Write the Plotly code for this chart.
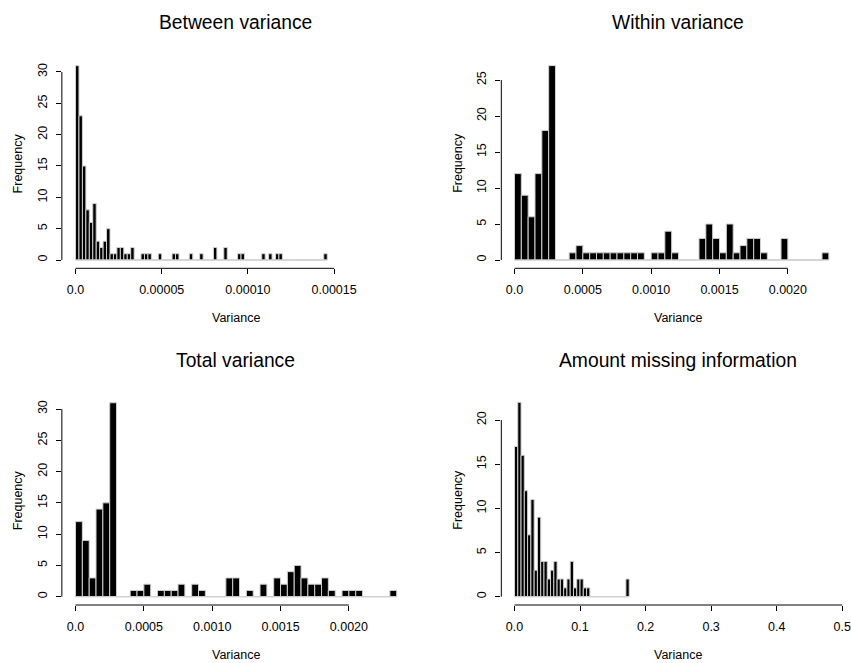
import numpy as np
import plotly.graph_objects as go

# ---- histogram data: bin width and counts per bin (bins start at 0) ----
between_width = 0.000002
between_counts = [31, 23, 15, 8, 6, 9, 3, 2, 3, 5, 1, 1, 2, 2, 1, 1, 2, 0, 0, 1,
                  1, 1, 0, 0, 1, 0, 0, 0, 1, 1, 0, 0, 0, 1, 0, 0, 1, 0, 0, 0,
                  2, 0, 0, 2, 0, 0, 0, 1, 1, 0, 0, 0, 0, 0, 1, 0, 1, 0, 1, 1,
                  0, 0, 0, 0, 0, 0, 0, 0, 0, 0, 0, 0, 1]

within_width = 0.00005
within_counts = [12, 9, 6, 12, 18, 27, 0, 0, 1, 2, 1, 1, 1, 1, 1, 1, 1, 1, 1, 0,
                 1, 1, 4, 1, 0, 0, 0, 3, 5, 3, 1, 5, 1, 2, 3, 3, 1, 0, 0, 3,
                 0, 0, 0, 0, 0, 1]

total_width = 0.00005
total_counts = [12, 9, 3, 14, 15, 31, 0, 0, 1, 1, 2, 0, 1, 1, 1, 2, 0, 2, 1, 0,
                0, 0, 3, 3, 0, 1, 0, 2, 0, 3, 2, 4, 5, 3, 2, 2, 3, 1, 0, 1,
                1, 1, 0, 0, 0, 0, 1]

missing_width = 0.005
missing_counts = [17, 22, 16, 12, 7, 11, 3, 9, 4, 4, 2, 3, 4, 2, 2, 1, 2, 4, 1, 2,
                  2, 1, 1, 0, 0, 0, 0, 0, 0, 0, 0, 0, 0, 0, 2]

titles = ["Between variance", "Within variance", "Total variance",
          "Amount missing information"]

x_tickvals = [
    [0.0, 0.00005, 0.00010, 0.00015],
    [0.0, 0.0005, 0.0010, 0.0015, 0.0020],
    [0.0, 0.0005, 0.0010, 0.0015, 0.0020],
    [0.0, 0.1, 0.2, 0.3, 0.4, 0.5],
]
x_ticktext = [
    ["0.0", "0.00005", "0.00010", "0.00015"],
    ["0.0", "0.0005", "0.0010", "0.0015", "0.0020"],
    ["0.0", "0.0005", "0.0010", "0.0015", "0.0020"],
    ["0.0", "0.1", "0.2", "0.3", "0.4", "0.5"],
]
y_tickvals = [
    [0, 5, 10, 15, 20, 25, 30],
    [0, 5, 10, 15, 20, 25],
    [0, 5, 10, 15, 20, 25, 30],
    [0, 5, 10, 15, 20],
]

# ---- layout geometry (pixels of an 851 x 663 page) ----
W, H = 851, 663
col_px = [(62.0, 410.5), (502.5, 851.0)]
row_px = [(58.0, 268.3), (395.0, 605.0)]
panel_pos = [(0, 0), (0, 1), (1, 0), (1, 1)]  # (row, col)

x_ranges = [
    [-7.93e-6, 1.9375e-4],
    [-9.635e-5, 0.0024474],
    [-1.0e-4, 0.0024438],
    [-0.02009, 0.51035],
]
y_ranges = [
    [-1.324, 32.23],
    [-1.153, 28.06],
    [-1.327, 32.24],
    [-0.939, 22.83],
]

FONT = "Liberation Sans, Arial, Helvetica, sans-serif"
BORDER = "#cfcfcf"

hists = [
    (between_width, between_counts),
    (within_width, within_counts),
    (total_width, total_counts),
    (missing_width, missing_counts),
]

fig = go.Figure()
layout = dict(
    width=W, height=H,
    margin=dict(l=0, r=0, t=0, b=0),
    paper_bgcolor="white", plot_bgcolor="white",
    showlegend=False,
    font=dict(family=FONT, color="black"),
)
shapes = []
annotations = []

for k, (width, counts) in enumerate(hists):
    r, c = panel_pos[k]
    n = k + 1
    xa = "x" if n == 1 else f"x{n}"
    ya = "y" if n == 1 else f"y{n}"
    counts = np.array(counts, dtype=float)
    breaks = np.arange(len(counts) + 1) * width
    centers = breaks[:-1] + width / 2

    # gray baseline under the empty bins
    fig.add_trace(go.Scatter(
        x=[breaks[0], breaks[-1]], y=[0, 0], mode="lines",
        line=dict(color=BORDER, width=1), xaxis=xa, yaxis=ya,
        hoverinfo="skip"))
    fig.add_trace(go.Bar(
        x=centers, y=counts, width=[width] * len(counts),
        marker=dict(color="black", line=dict(color=BORDER, width=1)),
        xaxis=xa, yaxis=ya, hoverinfo="skip"))

    x0p, x1p = col_px[c]
    y0p, y1p = row_px[r]
    xdom = [x0p / W, x1p / W]
    ydom = [1 - y1p / H, 1 - y0p / H]

    layout["xaxis" if n == 1 else f"xaxis{n}"] = dict(
        domain=xdom, range=x_ranges[k], anchor=ya,
        showgrid=False, zeroline=False, showline=False,
        ticks="outside", ticklen=5, tickwidth=1, tickcolor="black",
        tickvals=x_tickvals[k], ticktext=x_ticktext[k],
        tickfont=dict(size=12.5, family=FONT, color="black"),
        ticklabelstandoff=5, ticklabeloverflow="allow", fixedrange=True)
    layout["yaxis" if n == 1 else f"yaxis{n}"] = dict(
        domain=ydom, range=y_ranges[k], anchor=xa,
        showgrid=False, zeroline=False, showline=False,
        ticks="outside", ticklen=5, tickwidth=1, tickcolor="black",
        tickvals=y_tickvals[k], tickangle=-90,
        tickfont=dict(size=12.5, family=FONT, color="black"),
        ticklabelstandoff=4, fixedrange=True)

    # axis lines spanning the first to the last tick
    shapes.append(dict(type="line", xref=xa, yref=f"{ya} domain",
                       x0=x_tickvals[k][0], x1=x_tickvals[k][-1], y0=0, y1=0,
                       line=dict(color="black", width=1)))
    shapes.append(dict(type="line", xref=f"{xa} domain", yref=ya,
                       x0=0, x1=0, y0=y_tickvals[k][0], y1=y_tickvals[k][-1],
                       line=dict(color="black", width=1)))

    cx = (x0p + (x0p + 354.5 if c == 1 else x1p)) / 2
    # title
    annotations.append(dict(text=titles[k], x=cx / W, y=1 - (y0p - 35) / H,
                            xref="paper", yref="paper", showarrow=False,
                            xanchor="center", yanchor="middle",
                            font=dict(size=19.3, family=FONT, color="black")))
    # x axis title
    annotations.append(dict(text="Variance", x=cx / W, y=1 - (y1p + 50) / H,
                            xref="paper", yref="paper", showarrow=False,
                            xanchor="center", yanchor="middle",
                            font=dict(size=12.5, family=FONT, color="black")))
    # y axis title
    annotations.append(dict(text="Frequency", x=(x0p - 43.7) / W,
                            y=1 - ((y0p + y1p) / 2) / H,
                            xref="paper", yref="paper", showarrow=False,
                            xanchor="center", yanchor="middle", textangle=-90,
                            font=dict(size=12.5, family=FONT, color="black")))

layout["shapes"] = shapes
layout["annotations"] = annotations
layout["bargap"] = 0
fig.update_layout(**layout)

fig.write_html("out.html", config={"displayModeBar": False, "staticPlot": True})
